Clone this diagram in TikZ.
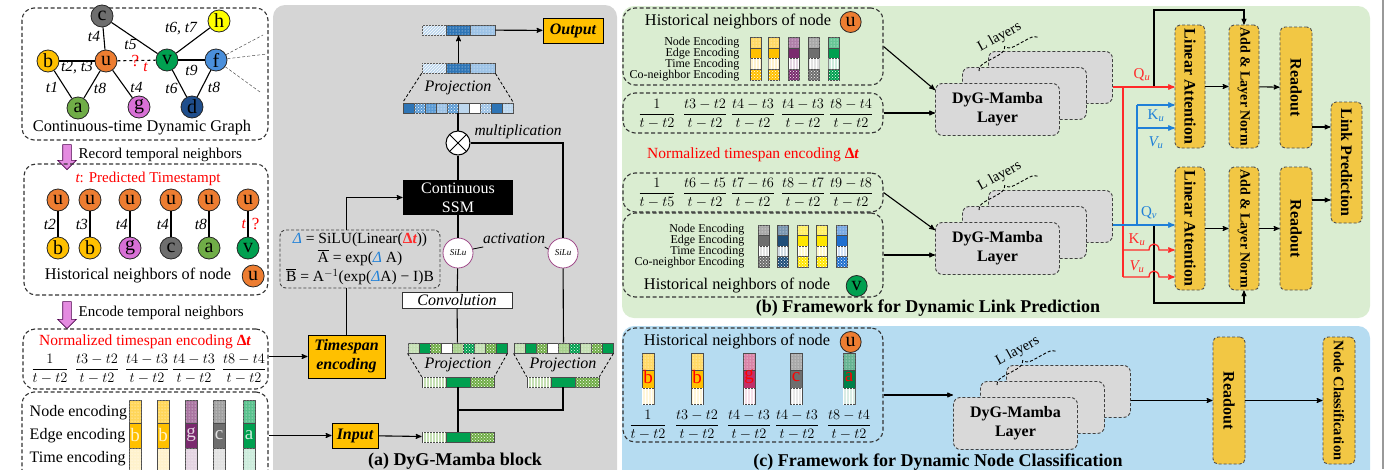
\documentclass[tikz,border=0pt]{standalone}
\usepackage{amsmath}
\usepackage{graphicx}
\usepackage{fontspec}
\setmainfont{Liberation Serif}
\usetikzlibrary{arrows,positioning,calc,patterns,shapes.arrows,decorations.pathreplacing}

\definecolor{nodeu}{HTML}{ED7D31}
\definecolor{nodeb}{HTML}{FFC000}
\definecolor{nodeh}{HTML}{FFFF00}
\definecolor{nodec}{HTML}{6E6E6E}
\definecolor{nodev}{HTML}{00A050}
\definecolor{nodef}{HTML}{4A8FDB}
\definecolor{nodea}{HTML}{70AD47}
\definecolor{nodeg}{HTML}{D870D6}
\definecolor{noded}{HTML}{1F4E8C}
\definecolor{barg}{HTML}{7A2A6E}
\definecolor{barc}{HTML}{C0306A}
\definecolor{bara}{HTML}{00804A}
\definecolor{bard}{HTML}{1F4E79}
\definecolor{barh}{HTML}{FFE600}
\definecolor{barf}{HTML}{1F6FD0}
\definecolor{panelgray}{HTML}{D5D5D5}
\definecolor{panelgreen}{HTML}{DAEDD1}
\definecolor{panelblue}{HTML}{B6DCF1}
\definecolor{boxorange}{HTML}{FFC000}
\definecolor{boxyellow}{HTML}{F2C744}
\definecolor{layergray}{HTML}{D9D9D9}
\definecolor{redline}{HTML}{FF2A2A}
\definecolor{blueline}{HTML}{1F80D8}
\definecolor{pinkarrow}{HTML}{E48BE0}
\definecolor{silu}{HTML}{A04A8A}
\definecolor{deepblue}{HTML}{2E75B6}
\definecolor{midblue}{HTML}{5B9BD5}
\definecolor{paleblue}{HTML}{9DC3E6}
\definecolor{lightblue}{HTML}{BDD7EE}
\definecolor{deepgreen}{HTML}{00A050}
\definecolor{midgreen}{HTML}{70AD47}
\definecolor{palegreen}{HTML}{A9D18E}
\definecolor{lightgreen}{HTML}{C5E0B4}

\newcommand\vecrow[4]{\foreach \st/\cl [count=\k from 0] in {#4}
  {\draw[cell,\st=\cl] (#1+#3*\k,#2) rectangle ++(#3,10);}}

\newcommand\dygstack[3]{%
  \node[layerbox,anchor=north west] (#3b) at (#1+53,#2-32) {};
  \node[layerbox,anchor=north west] (#3m) at (#1+27,#2-16) {};
  \node[layerbox,anchor=north west,align=center,
        font=\fontsize{16}{19}\selectfont\bfseries] (#3) at (#1,#2) {DyG-Mamba\\Layer};
  \draw[layerbrace] (#1+44,#2-12) -- (#1+104,#2-45)
    node[midway,above=9pt,sloped,font=\fontsize{14.5}{14.5}\selectfont] (#3l) {L layers};}

\begin{document}
\begin{tikzpicture}[x=1pt,y=-1pt,>=stealth',thick,
    font=\fontsize{15}{17}\selectfont,
    dashbox/.style={draw=black!80,dash pattern=on 4pt off 2.5pt,line width=1.1pt,
      rounded corners=12pt,inner sep=0pt},
    gnode/.style={circle,draw=black!85,line width=0.8pt,inner sep=0pt,
      minimum size=22pt,font=\fontsize{20}{20}\selectfont},
    tlabel/.style={font=\fontsize{15.5}{15.5}\selectfont\itshape,inner sep=1.5pt},
    conn/.style={line width=1.1pt},
    cell/.style={draw=black!70,line width=0.5pt},
    psol/.style={fill=#1},
    pdot/.style={fill=#1,postaction={pattern=dots,pattern color=white}},
    pchk/.style={fill=#1,postaction={pattern=crosshatch dots,pattern color=white}},
    plin/.style={fill=#1,postaction={pattern=north east lines,pattern color=white}},
    pver/.style={fill=#1,postaction={pattern=vertical lines,pattern color=white}},
    vecnode/.style={minimum height=10pt,inner sep=0pt},
    obox/.style={draw=black,line width=1pt,fill=boxorange,inner sep=1pt,
      font=\fontsize{16}{19}\selectfont\bfseries\itshape,align=center},
    ybox/.style={draw=black!70,fill=boxyellow,dash pattern=on 3pt off 2pt,
      line width=0.9pt,rounded corners=5pt,inner sep=0pt,
      font=\fontsize{16}{16}\selectfont\bfseries},
    layerbox/.style={draw=black!75,fill=layergray,dash pattern=on 3pt off 2pt,
      line width=0.9pt,rounded corners=7pt,minimum width=124pt,
      minimum height=52pt,inner sep=0pt},
    layerbrace/.style={decorate,decoration={brace,amplitude=9pt},
      dash pattern=on 3pt off 2pt,line width=0.9pt},
    pinkarr/.style={single arrow,draw=violet!60!black,fill=pinkarrow,rotate=-90,
      inner sep=4pt,single arrow head extend=5pt,line width=0.6pt},
    siluc/.style={circle,draw=silu,fill=white,line width=0.8pt,minimum size=30pt,
      inner sep=0pt,font=\fontsize{9}{9}\selectfont\itshape},
    redln/.style={draw=redline,line width=1.3pt},
    blueln/.style={draw=blueline,line width=1.3pt},
    caption/.style={font=\fontsize{18}{18}\selectfont\bfseries},
    hcap/.style={font=\fontsize{16.3}{18}\selectfont},
    encl/.style={font=\fontsize{12}{11}\selectfont,align=right,anchor=east},
    frac/.style={font=\fontsize{15}{15}\selectfont}]

  \useasboundingbox (0,0) rectangle (1388,469);
  \fill[panelgray,rounded corners=12pt] (273,5) rectangle (617,490);
  \fill[panelgreen,rounded corners=12pt] (622,6) rectangle (1370,318);
  \fill[panelblue,rounded corners=12pt] (622,326) rectangle (1370,490);
  \draw[black!40,line width=1.5pt] (1383,0) -- (1383,469);

  % continuous-time dynamic graph
  \node[dashbox,minimum width=246pt,minimum height=132pt] (cdgbox) at (145,74) {};
  \node[gnode,fill=nodec] (c) at (102,16) {c};
  \node[gnode,fill=nodeh] (h) at (219,21) {h};
  \node[gnode,fill=nodeb] (b) at (48,61) {b};
  \node[gnode,fill=nodeu] (u) at (106,61) {u};
  \node[gnode,fill=nodev] (v) at (167,60) {v};
  \node[gnode,fill=nodef] (f) at (216,60) {f};
  \node[gnode,fill=nodea] (a) at (78,108) {a};
  \node[gnode,fill=nodeg] (g) at (139,107) {g};
  \node[gnode,fill=noded] (d) at (192,107) {d};
  \draw[conn] (c) -- node[tlabel,xshift=-10pt,yshift=2pt] (l1) {t4} (u);
  \draw[conn] (c) -- node[tlabel,xshift=-4pt,yshift=-6pt] (l2) {t5} (v);
  \draw[conn] (v) -- node[tlabel,xshift=-12pt,yshift=12pt] (l3) {t6, t7} (h);
  \draw[conn] (b) -- node[tlabel,yshift=-7pt] (l4) {t2, t3} (u);
  \draw[conn] (v) -- node[tlabel,yshift=-10pt] (l5) {t9} (f);
  \draw[conn] (b) -- node[tlabel,xshift=-11pt,yshift=-3pt] (l6) {t1} (a);
  \draw[conn] (u) -- node[tlabel,xshift=8pt,yshift=-4pt] (l7) {t8} (a);
  \draw[conn] (u) -- node[tlabel,xshift=14pt,yshift=-3pt] (l8) {t4} (g);
  \draw[conn] (v) -- node[tlabel,xshift=-8pt,yshift=-5pt] (l9) {t6} (d);
  \draw[conn] (f) -- node[tlabel,xshift=10pt,yshift=-4pt] (l10) {t8} (d);
  \draw[conn,dashed] (u) -- node[text=red,font=\fontsize{17}{17}\selectfont,xshift=-1pt] (lq) {?}
    node[tlabel,text=red,xshift=9pt,yshift=-7pt] (lt) {t} (v);
  \coordinate (fo1) at (263,35);
  \coordinate (fo2) at (267,54);
  \coordinate (fo3) at (260,92);
  \draw[black!70,densely dashed,line width=0.5pt] (f) -- (fo1) (f) -- (fo2) (f) -- (fo3);
  \node[hcap] (cdgcap) at (142,128) {Continuous-time Dynamic Graph};

  \node[pinkarr,minimum height=25pt] (recarr) at (67,155) {};
  \node[anchor=west] (rectxt) at (75,155) {Record temporal neighbors};

  % historical neighbours
  \node[dashbox,minimum width=244pt,minimum height=131pt] (hnbox) at (146,229.5) {};
  \node[text=red] (predt) at (148,179) {{\itshape t}: Predicted Timestampt};
  \foreach \x/\n/\c/\t [count=\i] in {58/b/nodeb/t2,90/b/nodeb/t3,130/g/nodeg/t4,171/c/nodec/t4,209/a/nodea/t8}{
    \node[gnode,fill=nodeu] (hu\i) at (\x,200) {u};
    \node[gnode,fill=\c] (hn\i) at (\x,248) {\n};
    \draw[conn] (hu\i) -- node[tlabel,left] (ht\i) {\t} (hn\i);}
  \node[gnode,fill=nodeu] (hu6) at (248,200) {u};
  \node[gnode,fill=nodev] (hn6) at (248,248) {v};
  \draw[conn] (hu6) -- node[tlabel,left,text=red] (ht6) {t}
    node[right,text=red,font=\fontsize{17}{17}\selectfont] (hq6) {?} (hn6);
  \node[hcap] (hncap) at (138,276) {Historical neighbors of node};
  \node[gnode,fill=nodeu,right=7pt of hncap] (hncapu) {u};

  \node[pinkarr,minimum height=27pt] (encarr) at (67,313) {};
  \node[anchor=west] (enctxt) at (75,313) {Encode temporal neighbors};

  % timespan encoding and neighbour encodings
  \node[dashbox,minimum width=245pt,minimum height=60pt] (tsbox) at (145.5,359) {};
  \node[text=red,font=\fontsize{15.5}{18}\selectfont] (tstitle) at (145,342)
    {Normalized timespan encoding {\bfseries Δ\itshape t}};
  \foreach \x/\n/\d [count=\i] in {50/1/t-t2,97/t3-t2/t-t2,147/t4-t3/t-t2,194/t4-t3/t-t2,244/t8-t4/t-t2}
    \node[frac] (lf\i) at (\x,369) {$\dfrac{\n}{\d}$};

  \node[dashbox,minimum width=246pt,minimum height=98pt] (encbox) at (145,441) {};
  \node[anchor=west,font=\fontsize{16}{16}\selectfont] (encn) at (26,413) {Node encoding};
  \node[anchor=west,font=\fontsize{16}{16}\selectfont] (ence) at (26,436) {Edge encoding};
  \node[anchor=west,font=\fontsize{16}{16}\selectfont] (enct) at (26,459) {Time encoding};
  \foreach \x/\c/\l [count=\i] in {135/nodeb/b,163/nodeb/b,191/barg/g,219/nodec/c,249/nodev/a}{
    \draw[cell,pdot=\c!65] (\x-6,400) rectangle ++(12,23);
    \draw[cell,psol=\c] (\x-6,423) rectangle ++(12,25);
    \draw[cell,pdot=\c!20] (\x-6,448) rectangle ++(12,27);
    \node[text=white!80!\c,font=\fontsize{19}{19}\selectfont] (bl\i) at (\x,435) {\l};}

  % DyG-Mamba block
  \node[vecnode,minimum width=73pt] (outvec) at (458.5,30) {};
  \vecrow{422}{25}{24.33}{plin/lightblue,pdot/deepblue,pdot/paleblue}
  \node[obox,minimum width=60pt,minimum height=25pt] (outbox) at (573,30.5) {Output};
  \node[vecnode,minimum width=73pt] (ptopvec) at (458.5,68) {};
  \vecrow{422}{63}{24.33}{plin/lightblue,pdot/deepblue,pdot/paleblue}
  \node[vecnode,minimum width=110pt] (pbotvec) at (458,108) {};
  \vecrow{403}{103}{11}{psol/deepblue,pchk/midblue,pdot/midblue,pdot/paleblue,pchk/midblue,psol/lightblue,psol/white,pchk/paleblue,psol/deepblue,pdot/lightblue}
  \draw[dash pattern=on 3pt off 2pt,line width=0.8pt] (ptopvec.south west) -- (pbotvec.north west)
    (ptopvec.south east) -- (pbotvec.north east);
  \node[font=\fontsize{16}{16}\selectfont\itshape] (proj1) at (458,88) {Projection};
  \draw[->,conn] (ptopvec) -- (outvec);
  \draw[->,conn] (outvec) -- (outbox);

  \node[circle,draw,fill=white,line width=1pt,minimum size=24pt,inner sep=0pt] (mult) at (458,143) {};
  \draw[line width=1pt] (mult.north west) -- (mult.south east) (mult.north east) -- (mult.south west);
  \node[font=\fontsize{15.5}{15.5}\selectfont\itshape] (multl) at (518,132) {multiplication};
  \draw[conn] (pbotvec) -- (mult);

  \node[fill=black,text=white,minimum width=110pt,minimum height=35pt,align=center,
        inner sep=0pt,font=\fontsize{16}{19}\selectfont] (ssm) at (458,197.5) {Continuous\\SSM};
  \node[siluc] (silu1) at (458,253) {SiLu};
  \node[siluc] (silu2) at (563,253) {SiLu};
  \draw[conn] (mult) -- (ssm);
  \draw[conn] (mult) -| (silu2);
  \draw[conn] (ssm) -- (silu1);
  \node[font=\fontsize{15.5}{15.5}\selectfont\itshape] (actl) at (514,238) {activation};
  \draw[line width=0.8pt] ([xshift=4pt]actl.south west) -- (silu1.15);
  \draw[line width=0.8pt] ([xshift=-4pt]actl.south east) -- (silu2.165);

  \node[draw=black!80,fill=white,line width=0.7pt,minimum width=110pt,minimum height=16pt,
        inner sep=0pt,font=\fontsize{16}{16}\selectfont\itshape] (conv) at (457,300) {Convolution};
  \draw[conn] (silu1) -- (conv);

  \node[vecnode,minimum width=99pt] (gtop1) at (457.5,348) {};
  \vecrow{408}{343}{11}{pdot/lightgreen,psol/deepgreen,pchk/midgreen,psol/white,pdot/palegreen,pchk/deepgreen,pdot/lightgreen,pchk/midgreen,psol/deepgreen}
  \node[vecnode,minimum width=72pt] (gbot1) at (458,382) {};
  \vecrow{422}{377}{24}{pver/lightgreen,psol/deepgreen,pchk/midgreen}
  \draw[dash pattern=on 3pt off 2pt,line width=0.8pt] (gtop1.south west) -- (gbot1.north west)
    (gtop1.south east) -- (gbot1.north east);
  \node[font=\fontsize{16}{16}\selectfont\itshape] (proj2) at (458,365) {Projection};

  \node[vecnode,minimum width=99pt] (gtop2) at (563.5,348) {};
  \vecrow{514}{343}{11}{pdot/lightgreen,psol/deepgreen,pchk/midgreen,psol/white,pdot/palegreen,pchk/deepgreen,pdot/lightgreen,pchk/midgreen,psol/deepgreen}
  \node[vecnode,minimum width=72pt] (gbot2) at (563,382) {};
  \vecrow{527}{377}{24}{pver/lightgreen,psol/deepgreen,pchk/midgreen}
  \draw[dash pattern=on 3pt off 2pt,line width=0.8pt] (gtop2.south west) -- (gbot2.north west)
    (gtop2.south east) -- (gbot2.north east);
  \node[font=\fontsize{16}{16}\selectfont\itshape] (proj3) at (563,365) {Projection};
  \draw[conn] (conv) -- (gtop1);
  \draw[conn] (silu2) -- (gtop2);

  \node[vecnode,minimum width=72pt] (invec) at (458,437) {};
  \vecrow{422}{432}{24}{pver/lightgreen,psol/deepgreen,pchk/midgreen}
  \coordinate (mj) at (458,410);
  \draw[conn] (gbot1) -- (invec);
  \draw[conn] (gbot2) |- (mj);
  \node[obox,minimum width=46pt,minimum height=25pt] (inbox) at (355,435.5) {Input};
  \draw[->,conn] (inbox) -- (invec);
  \node[obox,minimum width=77pt,minimum height=43pt] (tspan) at (346.5,356.5) {Timespan\\encoding};
  \node[draw=black!75,dash pattern=on 3pt off 2pt,line width=0.9pt,rounded corners=6pt,
        minimum width=160pt,minimum height=58pt,inner sep=0pt,align=center,
        font=\fontsize{15.5}{19}\selectfont] (eqbox) at (360,259)
    {{\color{blueline}\itshape Δ} = SiLU(Linear({\color{redline}\bfseries Δ\itshape t}))\\
     $\overline{\text{A}}$ = exp({\color{blueline}\itshape Δ} A)\\
     $\overline{\text{B}}$ = A$^{-1}$(exp({\color{blueline}\itshape Δ}A) − I)B};
  \draw[conn] (tspan.north) -- (tspan.north |- eqbox.south);
  \draw[->,conn] (tspan.north |- eqbox.north) |- (ssm.west);
  \draw[->,conn] (tsbox.east |- tspan) -- (tspan);
  \draw[->,conn] (encbox.east |- inbox) -- (inbox);
  \node[caption] (capa) at (455,461) {(a) DyG-Mamba block};

  % dynamic link prediction
  \node[dashbox,minimum width=260pt,minimum height=77pt] (hnu) at (753,46.5) {};
  \node[hcap] (hnut) at (738,22) {Historical neighbors of node};
  \node[gnode,fill=nodeu,minimum size=21pt,right=5pt of hnut] (hnuu) {u};
  \node[encl] (hnul) at (743,59) {Node Encoding\\Edge Encoding\\Time Encoding\\Co-neighbor Encoding};
  \foreach \x/\c in {756/nodeb,774/nodeb,794/barg,814/nodec,834/nodev}{
    \draw[cell,pdot=\c!60] (\x-5.5,37) rectangle ++(11,10.75);
    \draw[cell,psol=\c] (\x-5.5,47.75) rectangle ++(11,10.75);
    \draw[cell,pver=\c!20] (\x-5.5,58.5) rectangle ++(11,10.75);
    \draw[cell,pchk=\c] (\x-5.5,69.25) rectangle ++(11,10.75);}
  \node[dashbox,minimum width=260pt,minimum height=40pt] (fru) at (753,113) {};
  \foreach \x/\n/\d [count=\i] in {657/1/t-t2,705/t3-t2/t-t2,753/t4-t3/t-t2,803/t4-t3/t-t2,851/t8-t4/t-t2}
    \node[frac] (uf\i) at (\x,114) {$\dfrac{\n}{\d}$};
  \node[text=red,font=\fontsize{15.5}{18}\selectfont] (gtitle) at (753,155)
    {Normalized timespan encoding {\bfseries Δ\itshape t}};
  \node[dashbox,minimum width=260pt,minimum height=39pt] (frv) at (753,192.5) {};
  \foreach \x/\n/\d [count=\i] in {657/1/t-t5,705/t6-t5/t-t2,753/t7-t6/t-t2,803/t8-t7/t-t2,851/t9-t8/t-t2}
    \node[frac] (vf\i) at (\x,193) {$\dfrac{\n}{\d}$};
  \node[dashbox,minimum width=260pt,minimum height=84pt] (hnv) at (753,255) {};
  \node[encl] (hnvl) at (748,246) {Node Encoding\\Edge Encoding\\Time Encoding\\Co-neighbor Encoding};
  \foreach \x/\c in {764/nodec,783/bard,803/barh,822/barh,842/barf}{
    \draw[cell,pdot=\c!60] (\x-5.5,225) rectangle ++(11,10.5);
    \draw[cell,psol=\c] (\x-5.5,235.5) rectangle ++(11,10.5);
    \draw[cell,pver=\c!20] (\x-5.5,246) rectangle ++(11,10.5);
    \draw[cell,pchk=\c] (\x-5.5,256.5) rectangle ++(11,10.5);}
  \node[hcap] (hnvt) at (737,286) {Historical neighbors of node};
  \node[gnode,fill=nodev,minimum size=21pt,right=12pt of hnvt] (hnvv) {v};

  \dygstack{935}{83}{lay1}
  \dygstack{935}{222}{lay2}
  \draw[->,conn] (hnu.east) -- ([yshift=-7pt]lay1.north west);
  \draw[->,conn] (fru.east) -- (fru.east -| lay1.west);
  \draw[->,conn] (frv.east) -- ([yshift=-8pt]lay2.north west);
  \draw[->,conn] (hnv.east) -- (hnv.east -| lay2.west);

  \node[ybox,minimum width=30pt,minimum height=123pt] (la1) at (1190,86.5) {\rotatebox{-90}{Linear Attention}};
  \node[ybox,minimum width=30pt,minimum height=123pt,font=\fontsize{14}{14}\selectfont\bfseries] (an1) at (1244,86.5) {\rotatebox{-90}{Add \& Layer Norm}};
  \node[ybox,minimum width=32pt,minimum height=121pt] (ro1) at (1296,87.5) {\rotatebox{-90}{Readout}};
  \node[ybox,minimum width=31pt,minimum height=121pt] (lp) at (1346.5,162.5) {\rotatebox{-90}{Link Prediction}};
  \node[ybox,minimum width=30pt,minimum height=123pt] (la2) at (1190,228.5) {\rotatebox{-90}{Linear Attention}};
  \node[ybox,minimum width=30pt,minimum height=123pt,font=\fontsize{14}{14}\selectfont\bfseries] (an2) at (1244,228.5) {\rotatebox{-90}{Add \& Layer Norm}};
  \node[ybox,minimum width=32pt,minimum height=123pt] (ro2) at (1296,228.5) {\rotatebox{-90}{Readout}};

  \coordinate (qs) at (1123,87);
  \coordinate (kr) at (1123,250);
  \coordinate (vr) at (1123,277);
  \coordinate (qv) at (1137,225);
  \coordinate (kb) at (1137,105);
  \coordinate (vb) at (1137,128);
  \coordinate (res1) at (1154,87);
  \coordinate (restop) at (1154,10);
  \coordinate (res2) at (1154,225);
  \coordinate (resbot) at (1154,303);
  \coordinate (lpin1) at (1331,127);
  \coordinate (lpin2) at (1331,200);
  \draw[->,conn] (res1) -- (restop) -| (an1.north);
  \draw[->,conn] (res2) -- (resbot) -| (an2.south);
  \draw[redln,->] (lay1b.east |- qs) -- (la1.west |- qs);
  \draw[redln] (qs) -- (vr);
  \draw[redln,->] (kr) -- ++(26,0) .. controls +(0,-8) and +(0,-8) .. ++(10,0) -- (la2.west |- kr);
  \draw[redln,->] (vr) -- ++(26,0) .. controls +(0,-8) and +(0,-8) .. ++(10,0) -- (la2.west |- vr);
  \draw[blueln,->] (lay2b.east |- qv) -- (la2.west |- qv);
  \draw[blueln] (qv) -- (kb);
  \draw[blueln,->] (kb) -- (la1.west |- kb);
  \draw[blueln,->] (vb) -- (la1.west |- vb);
  \node[text=redline] (lqu) at (1142,75) {Q\textsubscript{\itshape u}};
  \node[text=blueline] (lku1) at (1156,116) {K\textsubscript{\itshape u}};
  \node[text=blueline] (lvu1) at (1156,143) {\itshape V\textsubscript{u}};
  \node[text=blueline] (lqv) at (1149,213) {Q\textsubscript{\itshape v}};
  \node[text=redline] (lku2) at (1137,240) {K\textsubscript{\itshape u}};
  \node[text=redline] (lvu2) at (1137,267) {\itshape V\textsubscript{u}};
  \draw[->,conn] (la1) -- (an1);
  \draw[->,conn] (an1) -- (ro1);
  \draw[->,conn] (la2) -- (an2);
  \draw[->,conn] (an2) -- (ro2);
  \draw[->,conn] (ro1.east |- lpin1) -- (lp.west |- lpin1);
  \draw[->,conn] (ro2.east |- lpin2) -- (lp.west |- lpin2);
  \node[caption] (capb) at (928,308) {(b) Framework for Dynamic Link Prediction};

  % dynamic node classification
  \node[dashbox,minimum width=260pt,minimum height=114pt] (hnu2) at (753,385) {};
  \node[hcap] (hnu2t) at (737,342) {Historical neighbors of node};
  \node[gnode,fill=nodeu,minimum size=21pt,right=6pt of hnu2t] (hnu2u) {u};
  \foreach \x/\c/\l [count=\i] in {648/nodeb/b,697/nodeb/b,749/barc/g,796/nodec/c,849/bara/a}{
    \draw[cell,pdot=\c!60] (\x-6,353) rectangle ++(12,17);
    \draw[cell,psol=\c] (\x-6,370) rectangle ++(12,18);
    \draw[cell,pver=\c!15] (\x-6,388) rectangle ++(12,16);
    \node[text=red,font=\fontsize{19}{19}\selectfont] (cl\i) at (\x,377) {\l};}
  \foreach \x/\n/\d [count=\i] in {648/1/t-t2,697/t3-t2/t-t2,749/t4-t3/t-t2,797/t4-t3/t-t2,849/t8-t4/t-t2}
    \node[frac] (cf\i) at (\x,425) {$\dfrac{\n}{\d}$};
  \dygstack{953}{397}{lay3}
  \node[ybox,minimum width=32pt,minimum height=127pt] (ro3) at (1229,400.5) {\rotatebox{-90}{Readout}};
  \node[ybox,minimum width=32pt,minimum height=127pt,font=\fontsize{14.5}{14.5}\selectfont\bfseries] (nc) at (1339,400.5) {\rotatebox{-90}{Node Classification}};
  \draw[->,conn] ([yshift=-10pt]hnu2.east) -- ([yshift=-10pt]hnu2.east -| lay3.west);
  \draw[->,conn] (lay3b.east |- ro3) -- (ro3);
  \draw[->,conn] (ro3) -- (nc);
  \node[caption] (capc) at (938,462) {(c) Framework for Dynamic Node Classification};
\end{tikzpicture}
\end{document}
